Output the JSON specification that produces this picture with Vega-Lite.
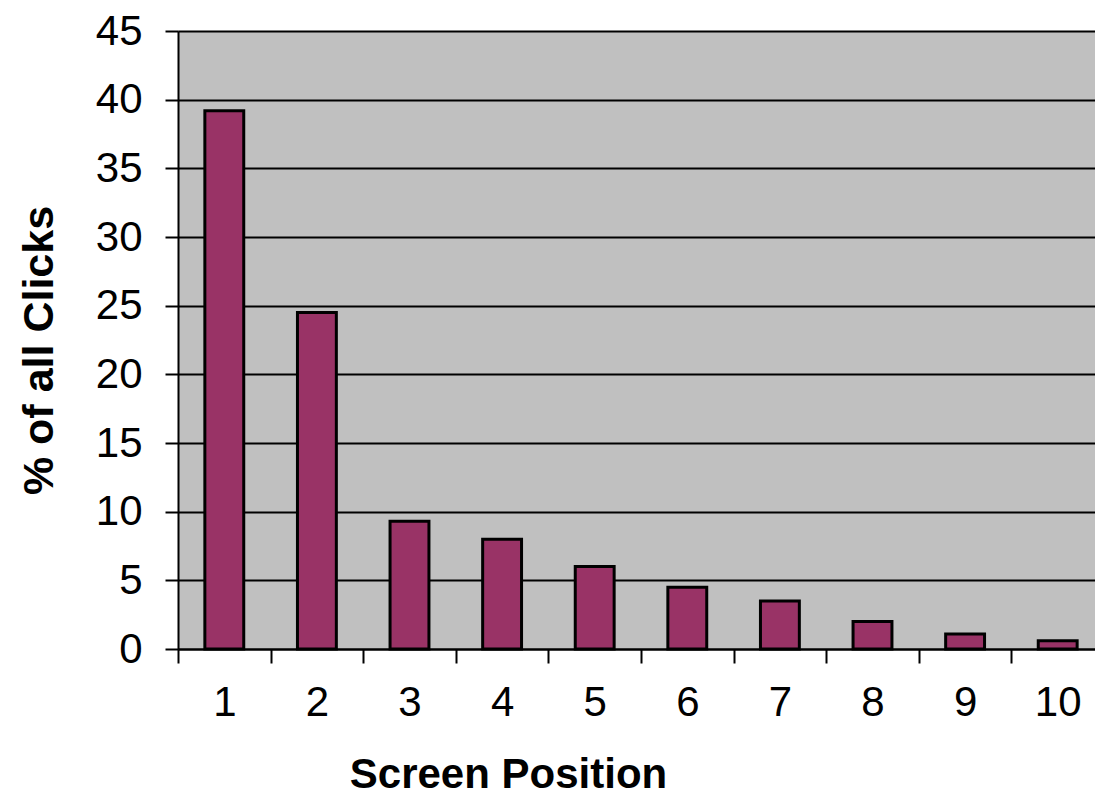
{
  "$schema": "https://vega.github.io/schema/vega-lite/v6.json",
  "width": 917,
  "height": 618,
  "autosize": {"type": "none"},
  "padding": {"left": 178, "top": 31, "right": 0, "bottom": 149},
  "background": "#ffffff",
  "config": {
    "font": "Liberation Sans",
    "view": {"fill": "#C0C0C0", "stroke": null}
  },
  "data": {
    "values": [
      {"position": "1", "clicks": 39.2},
      {"position": "2", "clicks": 24.5},
      {"position": "3", "clicks": 9.3},
      {"position": "4", "clicks": 8.0},
      {"position": "5", "clicks": 6.0},
      {"position": "6", "clicks": 4.5},
      {"position": "7", "clicks": 3.5},
      {"position": "8", "clicks": 2.0},
      {"position": "9", "clicks": 1.1},
      {"position": "10", "clicks": 0.6}
    ]
  },
  "mark": {
    "type": "bar",
    "width": {"band": 0.42},
    "fill": "#993366",
    "stroke": "#000000",
    "strokeWidth": 3
  },
  "encoding": {
    "x": {
      "field": "position",
      "type": "ordinal",
      "sort": null,
      "scale": {"paddingInner": 0, "paddingOuter": 0, "range": [0, 926]},
      "axis": {
        "title": "Screen Position",
        "titleFont": "Liberation Sans",
        "titleFontSize": 42,
        "titleFontWeight": "bold",
        "titleColor": "#000000",
        "titleX": 330,
        "titleY": 138,
        "titleAlign": "center",
        "titleBaseline": "alphabetic",
        "labelAngle": 0,
        "labelFontSize": 42,
        "labelColor": "#000000",
        "labelPadding": 19,
        "tickBand": "extent",
        "tickSize": 14,
        "tickWidth": 2,
        "tickColor": "#000000",
        "domainColor": "#000000",
        "domainWidth": 2,
        "grid": false
      }
    },
    "y": {
      "field": "clicks",
      "type": "quantitative",
      "scale": {"domain": [0, 45], "nice": false},
      "axis": {
        "title": "% of all Clicks",
        "titleFont": "Liberation Sans",
        "titleFontSize": 43,
        "titleFontWeight": "bold",
        "titleColor": "#000000",
        "titleAngle": -90,
        "titleX": -126,
        "titleY": 319,
        "titleAlign": "center",
        "titleBaseline": "alphabetic",
        "values": [0, 5, 10, 15, 20, 25, 30, 35, 40, 45],
        "labelFontSize": 42,
        "labelColor": "#000000",
        "labelPadding": 23,
        "labelBaseline": "middle",
        "tickSize": 13,
        "tickWidth": 2,
        "tickColor": "#000000",
        "domainColor": "#000000",
        "domainWidth": 2,
        "grid": true,
        "gridColor": "#000000",
        "gridWidth": 2,
        "gridOpacity": 1
      }
    }
  }
}
